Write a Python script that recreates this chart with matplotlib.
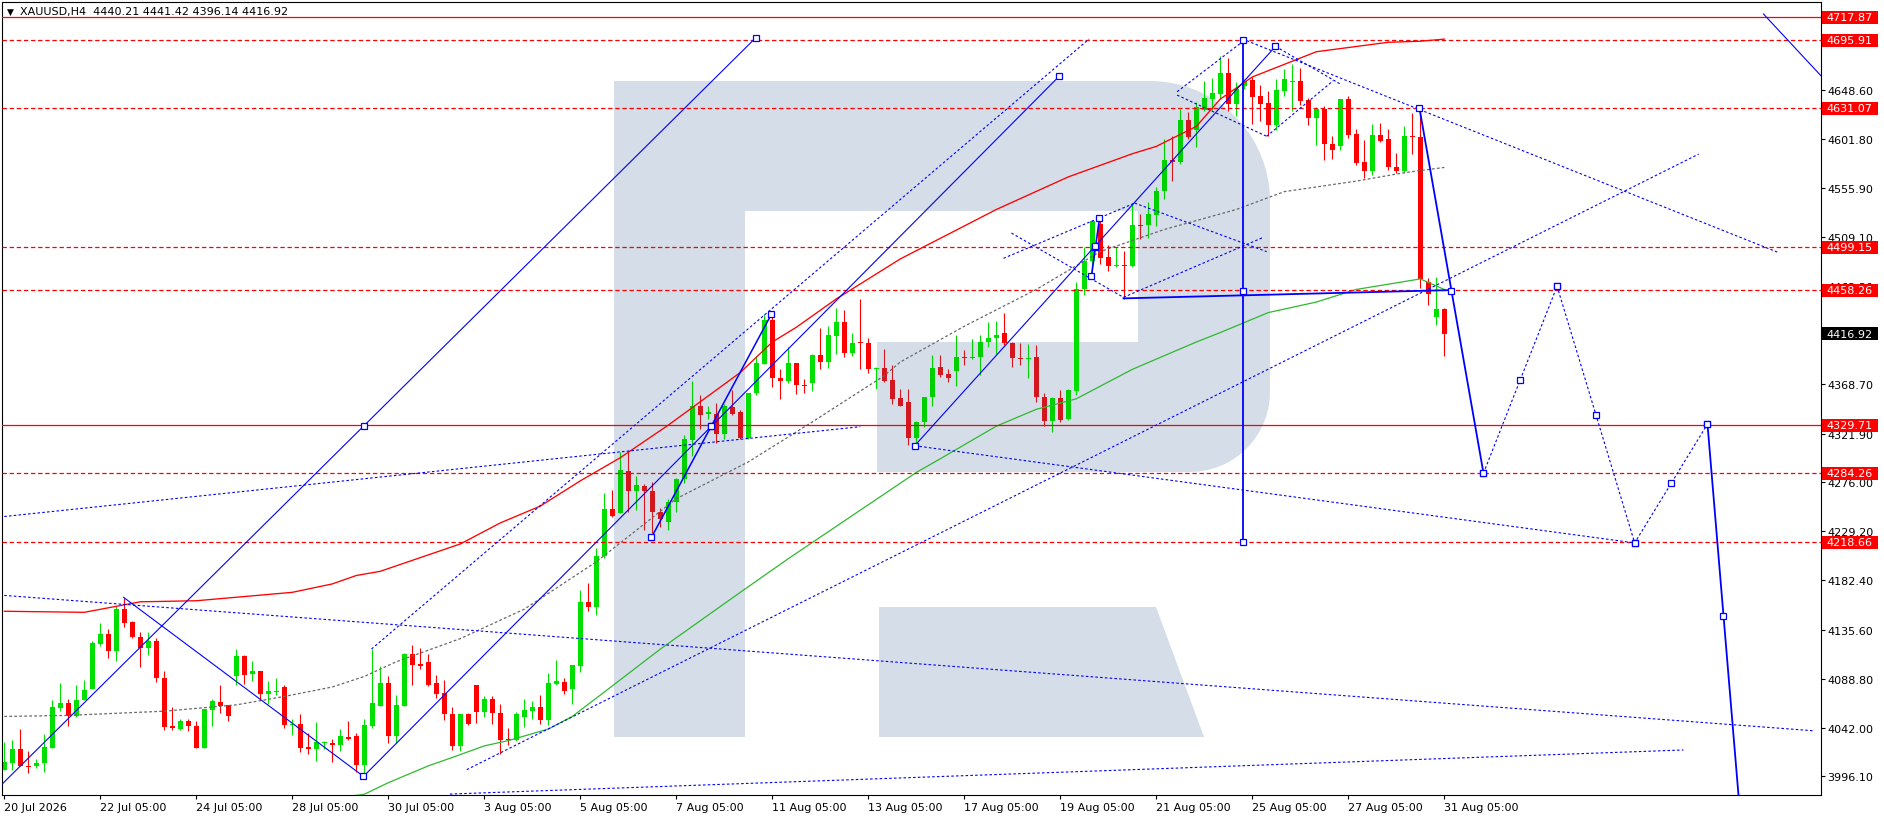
import numpy as np
import matplotlib
matplotlib.use("Agg")
import matplotlib.pyplot as plt
from matplotlib.path import Path
from matplotlib.patches import Polygon, Rectangle
from matplotlib.transforms import blended_transform_factory

# ── Data: XAUUSD H4 candles (bar index 0 = 20 Jul 2026) ───────────────────────

opens = [4002, 4009, 4022, 4006, 4006, 4009, 4023, 4061, 4066, 4053,
         4069, 4079, 4122, 4131, 4115, 4155, 4143, 4129, 4118, 4125,
         4090, 4044, 4041, 4049, 4044, 4023, 4059, 4067, 4064, 4091,
         4110, 4093, 4096, 4074, 4076.5, 4081, 4045, 4046, 4024, 4022,
         4028, 4028, 4026, 4033, 4034, 4007, 4044, 4063, 4085, 4034,
         4063, 4112, 4103, 4105, 4085, 4075, 4055, 4025, 4055, 4083,
         4057, 4070, 4056, 4032, 4031, 4052, 4058, 4062, 4050, 4084,
         4086, 4079, 4101, 4162, 4157, 4206, 4250, 4246, 4286, 4267,
         4272, 4267, 4247, 4238, 4257, 4279, 4316, 4348, 4341, 4341,
         4322, 4347, 4342, 4318, 4361, 4388, 4430, 4375, 4372, 4389,
         4368, 4370, 4397, 4390, 4415, 4428, 4399, 4409, 4408, 4383,
         4384, 4373, 4356, 4352, 4318, 4333, 4357, 4385, 4379, 4381,
         4395, 4394, 4395, 4409, 4413, 4418, 4408, 4394, 4393, 4395,
         4357, 4334, 4356, 4336, 4362, 4459, 4486, 4521, 4490, 4481,
         4482, 4481, 4520, 4520, 4530, 4553, 4582, 4580, 4620, 4611,
         4630, 4640, 4645, 4665, 4635, 4652, 4658, 4643, 4636, 4615,
         4648, 4656, 4657, 4639, 4622, 4631, 4597, 4595, 4640, 4607,
         4580, 4572, 4606, 4602, 4575, 4572, 4605, 4604, 4466, 4433,
         4440.21]
highs = [4029, 4031, 4041, 4020, 4013, 4036, 4069, 4085, 4070, 4083,
         4088, 4125, 4142, 4136, 4158, 4166, 4144, 4133, 4133, 4128,
         4096, 4062, 4051, 4051, 4049, 4060, 4070, 4083, 4064, 4117,
         4111, 4106, 4096, 4087, 4090, 4083, 4051, 4055, 4037, 4048,
         4030, 4032, 4041, 4049, 4037, 4051, 4117, 4101, 4091, 4073,
         4113, 4121, 4118, 4112, 4092, 4088, 4062, 4055, 4056, 4083,
         4072, 4072, 4065, 4042, 4057, 4070, 4068, 4073, 4094, 4107,
         4090, 4102, 4173, 4180, 4213, 4265, 4268, 4304, 4305, 4282,
         4274, 4276, 4251, 4260, 4280, 4321, 4372, 4359, 4348, 4351,
         4350, 4363, 4344, 4361, 4396, 4436, 4434, 4383, 4404, 4389,
         4374, 4398, 4422, 4424, 4441, 4439, 4418, 4450, 4413, 4385,
         4402, 4387, 4364, 4364, 4334, 4357, 4397, 4397, 4383, 4416,
         4401, 4412, 4416, 4428, 4429, 4437, 4409, 4408, 4407, 4406,
         4361, 4357, 4363, 4364, 4466, 4499, 4524, 4526, 4501, 4499,
         4496, 4541, 4531, 4542, 4556, 4602, 4605, 4631, 4628, 4637,
         4657, 4660, 4681, 4679, 4656, 4659, 4661, 4653, 4648, 4659,
         4669, 4673, 4670, 4641, 4632, 4633, 4605, 4640, 4643, 4612,
         4601, 4616, 4617, 4612, 4589, 4614, 4627, 4631, 4470, 4471,
         4441.42]
lows = [4002, 4002, 4006, 3999, 4004, 4000, 4023, 4058, 4044, 4052,
        4069, 4079, 4120, 4109, 4106, 4138, 4128, 4100, 4111, 4086,
        4040, 4040, 4040, 4039, 4023, 4023, 4044, 4056, 4049, 4083,
        4084, 4087, 4070, 4065, 4073, 4042, 4035, 4019, 4017, 4011,
        4022, 4010, 4020, 4031, 4000, 3997, 4042, 4063, 4028, 4028,
        4063, 4083, 4098, 4082, 4071, 4050, 4021, 4020, 4045, 4047,
        4052, 4046, 4017, 4026, 4030, 4043, 4051, 4046, 4045, 4083,
        4074, 4065, 4095, 4153, 4149, 4204, 4243, 4246, 4247, 4249,
        4230, 4227, 4233, 4230, 4247, 4275, 4301, 4326, 4336, 4313,
        4317, 4340, 4317, 4317, 4359, 4388, 4366, 4355, 4370, 4360,
        4361, 4362, 4383, 4384, 4398, 4395, 4396, 4383, 4380, 4364,
        4371, 4350, 4348, 4311, 4312, 4328, 4348, 4376, 4371, 4367,
        4387, 4393, 4378, 4404, 4398, 4406, 4385, 4387, 4375, 4352,
        4329, 4323, 4333, 4335, 4359, 4454, 4472, 4483, 4477, 4480,
        4450, 4480, 4507, 4508, 4519, 4545, 4562, 4578, 4602, 4594,
        4629, 4630, 4640, 4629, 4624, 4650, 4616, 4619, 4605, 4611,
        4643, 4629, 4634, 4615, 4596, 4582, 4583, 4592, 4603, 4577,
        4565, 4568, 4599, 4573, 4570, 4570, 4588, 4460, 4444, 4425,
        4396.14]
closes = [4010, 4022, 4006, 4005, 4009, 4024, 4062, 4066, 4053, 4069,
          4078, 4123, 4131, 4115, 4155, 4142, 4129, 4118, 4125, 4090,
          4043, 4042, 4049, 4044, 4023, 4060, 4068, 4063, 4053, 4110,
          4092, 4096, 4074, 4077, 4077, 4045, 4046, 4023, 4022, 4029,
          4029, 4026, 4034, 4032, 4007, 4045, 4066, 4085, 4034, 4064,
          4112, 4102, 4101, 4083, 4074, 4055, 4025, 4055, 4046, 4057,
          4070, 4056, 4031, 4031, 4055, 4059, 4062, 4050, 4085, 4087,
          4077, 4102, 4162, 4157, 4206, 4250, 4244, 4287, 4267, 4273,
          4267, 4247, 4241, 4257, 4279, 4317, 4348, 4340, 4342, 4322,
          4348, 4341, 4318, 4361, 4389, 4430, 4375, 4372, 4389, 4368,
          4367, 4397, 4390, 4416, 4428, 4399, 4408, 4408, 4383, 4384,
          4372, 4355, 4348, 4318, 4333, 4357, 4384, 4378, 4375, 4395,
          4394, 4395, 4409, 4413, 4416, 4408, 4394, 4393, 4394, 4357,
          4334, 4356, 4335, 4363, 4459, 4486, 4524, 4489, 4481, 4482,
          4481, 4520, 4519, 4531, 4553, 4582, 4580, 4620, 4604, 4632,
          4641, 4646, 4665, 4635, 4650, 4657, 4642, 4635, 4615, 4649,
          4659, 4657, 4638, 4622, 4631, 4597, 4592, 4640, 4606, 4579,
          4572, 4606, 4600, 4575, 4572, 4605, 4604, 4469, 4455, 4440,
          4416.92]

# moving averages (bar, price)
ma_red = [(0, 4153), (10, 4152), (17, 4162), (24, 4163), (36, 4171), (41, 4179),
          (44, 4187), (47, 4191), (52, 4204), (57, 4217), (62, 4237), (67, 4253),
          (72, 4277), (77, 4299), (83, 4330), (92, 4380), (96, 4409), (99, 4423),
          (104, 4450), (112, 4488), (124, 4535), (133, 4566), (141, 4588),
          (144, 4595), (149, 4614), (152, 4640), (156, 4661), (161, 4676),
          (164, 4685), (169, 4690), (173, 4694), (177, 4695), (180, 4697)]
ma_green = [(43, 3977), (45, 3979), (48, 3990), (53, 4006), (56, 4014), (60, 4025),
            (63, 4030), (68, 4041), (71, 4053), (76, 4082), (82, 4117), (92, 4171),
            (98, 4203), (114, 4285), (117, 4298), (124, 4329), (129, 4345),
            (134, 4355), (141, 4383), (149, 4409), (152, 4418), (158, 4437),
            (164, 4447), (169, 4459), (173, 4464), (177, 4469), (180, 4459)]
ma_gray = [(0, 4053), (8, 4054), (20, 4058), (29, 4064), (35, 4072), (41, 4081),
           (45, 4091), (49, 4105), (57, 4127), (65, 4155), (74, 4200), (84, 4260),
           (93, 4295), (101, 4333), (110, 4377), (112, 4390), (120, 4424),
           (129, 4459), (137, 4495), (145, 4516), (154, 4535), (160, 4552),
           (169, 4562), (175, 4570), (180, 4575)]

# horizontal levels
levels_solid = [4717.87, 4329.71]
levels_dashed = [4695.91, 4631.07, 4499.15, 4458.26, 4284.26, 4218.66]
last_price = 4416.92

# axis ticks
y_ticks = [3996.10, 4042.00, 4088.80, 4135.60, 4182.40, 4229.20, 4276.00,
           4321.90, 4368.70, 4415.50, 4462.30, 4509.10, 4555.90, 4601.80,
           4648.60, 4695.40]
x_tick_bars = list(range(0, 181, 12))
x_tick_labels = ["20 Jul 2026", "22 Jul 05:00", "24 Jul 05:00", "28 Jul 05:00",
                 "30 Jul 05:00", "3 Aug 05:00", "5 Aug 05:00", "7 Aug 05:00",
                 "11 Aug 05:00", "13 Aug 05:00", "17 Aug 05:00", "19 Aug 05:00",
                 "21 Aug 05:00", "25 Aug 05:00", "27 Aug 05:00", "31 Aug 05:00"]

# drawn objects (bar, price)
line_a = [(-4.0, 3960.6), (93.96, 4698.5)]
line_b = [(14.9, 4166.3), (44.9, 3996.0)]
line_c = [(44.9, 3996.0), (131.9, 4662.0)]
line_j = [(80.9, 4223.3), (95.9, 4435.6)]
line_p = [(135.9, 4472.0), (136.9, 4526.6)]
line_i = [(113.8, 4310.4), (158.9, 4690.1)]
line_v = [(154.9, 4218.66), (154.9, 4695.91)]
line_o = [(139.9, 4450.5), (180.9, 4458.4)]
line_n = [(176.9, 4631.2), (184.9, 4284.3)]
line_drop = [(212.9, 4331.0), (216.9, 3966.9)]
line_t = [(219.9, 4720.9), (228.0, 4654.7)]

dash_d = [(45.9, 4117.1), (135.6, 4697.1)]
dash_f = [(-0.6, 4168.4), (226.1, 4039.4)]
dash_g = [(-0.6, 4242.6), (107.0, 4328.5)]
dash_h = [(113.8, 4310.4), (203.8, 4218.0)]
dash_k = [(57.8, 4002.4), (211.8, 4587.7)]
dash_l = [(55.7, 3979.2), (209.9, 4021.1)]
dash_m = [(155.3, 4695.5), (221.7, 4494.3)]
dash_x1a = [(125.9, 4512.6), (139.9, 4451.5)]
dash_x1b = [(124.9, 4488.6), (141.3, 4541.1)]
dash_x2a = [(141.3, 4541.1), (157.8, 4494.9)]
dash_x2b = [(139.9, 4451.5), (157.4, 4508.6)]
dash_r1 = [(146.6, 4647.0), (154.9, 4695.2)]
dash_r2 = [(146.6, 4643.8), (157.8, 4604.6)]
dash_r3 = [(157.8, 4604.6), (166.1, 4657.4)]
dash_r4 = [(158.9, 4690.1), (167.0, 4654.3)]
zigzag = [(184.9, 4284.3), (194.1, 4462.0), (203.8, 4218.0), (212.9, 4331.0)]

assert len(opens) == len(highs) == len(lows) == len(closes) == 181

# ── Style ─────────────────────────────────────────────────────────────────────

W, H = 1884, 820
PX_L, PX_R, PX_T, PX_B = 2, 1821, 3, 796
BULL, BEAR = "#00e000", "#ff0000"
BULL_WM, BEAR_WM = "#00d000", "#d4161e"   # candle tint where it sits on the watermark
BLUE = "#0000ff"
LOGO = "#d4dde8"
plt.rcParams["font.family"] = ["DejaVu Sans"]

fig = plt.figure(figsize=(W / 100, H / 100), dpi=100)
ax = fig.add_axes([PX_L / W, 1 - PX_B / H, (PX_R - PX_L) / W, (PX_B - PX_T) / H])
XL, YL = (-0.2875, 227.09), (3978.3, 4732.3)
ax.set_xlim(*XL)
ax.set_ylim(*YL)
for s in ax.spines.values():
    s.set_linewidth(0.8)
    s.set_color("black")


def px2ax(x, y):
    return ((x - PX_L) / (PX_R - PX_L), (PX_B - y) / (PX_B - PX_T))


# ── Watermark logo (pixel outline) ────────────────────────────────────────────
R1, R2 = 120, 80
outline = [(614, 738), (614, 82)]
for t in np.linspace(90, 0, 20):
    outline.append((1270 - R1 + R1 * np.cos(np.radians(t)), 82 + R1 - R1 * np.sin(np.radians(t))))
for t in np.linspace(0, -90, 16):
    outline.append((1270 - R2 + R2 * np.cos(np.radians(t)), 473 - R2 - R2 * np.sin(np.radians(t))))
outline += [(877, 473), (877, 343), (1138, 343), (1138, 212), (745, 212), (745, 738)]
leg = [(879, 608), (1156, 608), (1204, 738), (879, 738)]
logo_paths = [Path(outline), Path(leg)]
for shape in (outline, leg):
    ax.add_patch(Polygon([px2ax(*p) for p in shape], closed=True, transform=ax.transAxes,
                         fc=LOGO, ec="none", zorder=0))

# ── Candles ───────────────────────────────────────────────────────────────────
o, h, l, c = map(np.array, (opens, highs, lows, closes))
x = np.arange(len(o))
up = c >= o
# body centre in pixel space, to tint candles lying over the watermark
px_x = PX_L + (x - XL[0]) / (XL[1] - XL[0]) * (PX_R - PX_L)
px_y = PX_B - ((o + c) / 2 - YL[0]) / (YL[1] - YL[0]) * (PX_B - PX_T)
on_logo = np.array([any(p.contains_point((a, b)) for p in logo_paths) for a, b in zip(px_x, px_y)])
cols = np.where(up, np.where(on_logo, BULL_WM, BULL), np.where(on_logo, BEAR_WM, BEAR))
ax.vlines(x, l, h, colors=cols, lw=0.8, zorder=2)
ax.bar(x, np.maximum(np.abs(c - o), 0.95), bottom=np.minimum(o, c), width=0.62,
       color=cols, lw=0, zorder=2.1, antialiased=False)

# ── Moving averages ───────────────────────────────────────────────────────────
ax.plot(*zip(*ma_red), color="#ff0000", lw=0.95, zorder=3)
ax.plot(*zip(*ma_green), color="#30b830", lw=0.9, zorder=3)
ax.plot(*zip(*ma_gray), color="#686868", lw=0.9, ls=(0, (2.2, 1.8)), zorder=3)

# ── Horizontal levels ─────────────────────────────────────────────────────────
for lv in levels_solid:
    ax.axhline(lv, color="#ff0000", lw=0.9, zorder=3.5)
for lv in levels_dashed:
    ax.axhline(lv, color="#ff0000", lw=0.9, ls=(0, (3.5, 2.2)), zorder=3.5)

# ── Trend objects ─────────────────────────────────────────────────────────────
squares = []


def draw(pts, lw=0.8, dashed=False, selected=False):
    xs, ys = zip(*pts)
    ax.plot(xs, ys, color=BLUE, lw=lw, ls=(0, (2.3, 2.0)) if dashed else "-", zorder=4)
    if selected:
        for (x0, y0), (x1, y1) in zip(pts[:-1], pts[1:]):
            squares.extend([(x0, y0), ((x0 + x1) / 2, (y0 + y1) / 2), (x1, y1)])


draw(line_a, selected=True)
draw(line_b)
draw(line_c, selected=True)
draw(line_j, lw=1.1, selected=True)
draw(line_p, lw=1.2, selected=True)
draw(line_i, selected=True)
draw(line_v, lw=1.3, selected=True)
draw(line_o, lw=1.3)
draw(line_n, lw=1.3, selected=True)
draw(line_drop, lw=1.3, selected=True)
draw(line_t)
for d in (dash_d, dash_f, dash_g, dash_h, dash_k, dash_l, dash_m, dash_x1a, dash_x1b,
          dash_x2a, dash_x2b, dash_r1, dash_r2, dash_r3, dash_r4):
    draw(d, dashed=True)
draw(zigzag, dashed=True, selected=True)

sx, sy = zip(*squares)
ax.plot(sx, sy, ls="none", marker="s", ms=4.0, mfc="white", mec=BLUE, mew=0.9, zorder=5)

# ── Axes, ticks, labels ───────────────────────────────────────────────────────
ax.yaxis.tick_right()
ax.set_yticks(y_ticks)
ax.set_yticklabels([f"{v:.2f}" for v in y_ticks])
ax.tick_params(axis="y", length=3, width=0.8, pad=1.5, labelsize=8, colors="black")
ax.set_xticks(x_tick_bars)
ax.set_xticklabels(x_tick_labels)
ax.tick_params(axis="x", length=3, width=0.8, pad=2, labelsize=8, colors="black")
for lbl in ax.get_xticklabels():
    lbl.set_horizontalalignment("left")

tr = blended_transform_factory(ax.transAxes, ax.transData)
bx0 = (1821.7 - PX_L) / (PX_R - PX_L)
bw = 56 / (PX_R - PX_L)
bh = 13.3 * 0.9508
tx = (1826.5 - PX_L) / (PX_R - PX_L)
for lv, fc in [(v, "#ff0000") for v in levels_solid + levels_dashed] + [(last_price, "black")]:
    ax.add_patch(Rectangle((bx0, lv - bh / 2), bw, bh, transform=tr, fc=fc, ec="none",
                           clip_on=False, zorder=8))
    ax.text(tx, lv, f"{lv:.2f}", transform=tr, color="white", fontsize=8,
            va="center", ha="left", clip_on=False, zorder=9)

# header
fig.text(7 / W, 1 - 12.5 / H, "\u25bc", fontsize=6.5, va="center", ha="left")
fig.text(20 / W, 1 - 12.5 / H, "XAUUSD,H4  4440.21 4441.42 4396.14 4416.92",
         fontsize=8, va="center", ha="left")

fig.savefig("out.png", dpi=100, facecolor="white")
